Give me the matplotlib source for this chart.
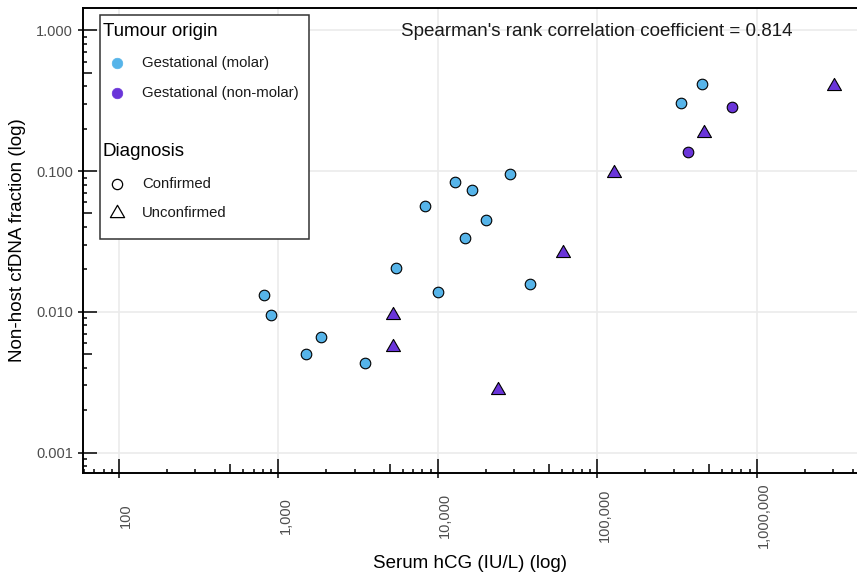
import numpy as np
import matplotlib
matplotlib.use("Agg")
import matplotlib.pyplot as plt
from matplotlib.lines import Line2D
from matplotlib.patches import Rectangle
from matplotlib.path import Path

plt.rcParams['font.family'] = ['Liberation Sans', 'DejaVu Sans']

# ---------------- data ----------------
hcg = [811, 897, 1845, 1486, 3500, 5200, 5200, 5460, 8250, 12840, 16270, 28280,
       20090, 14770, 10040, 37740, 60500, 23680, 450200, 335300, 700000, 463300,
       371000, 127500, 3050000]
cfdna = [0.0132, 0.0095, 0.0066, 0.0050, 0.0043, 0.0095, 0.0056, 0.0205, 0.0566,
         0.0842, 0.0736, 0.0960, 0.0446, 0.0334, 0.0139, 0.0157, 0.0261, 0.0028,
         0.415, 0.306, 0.2835, 0.188, 0.137, 0.0965, 0.402]
origin = ['molar', 'molar', 'molar', 'molar', 'molar', 'non-molar', 'non-molar',
          'molar', 'molar', 'molar', 'molar', 'molar', 'molar', 'molar', 'molar',
          'molar', 'non-molar', 'non-molar', 'molar', 'molar', 'non-molar',
          'non-molar', 'non-molar', 'non-molar', 'non-molar']
diagnosis = ['Confirmed', 'Confirmed', 'Confirmed', 'Confirmed', 'Confirmed',
             'Unconfirmed', 'Unconfirmed', 'Confirmed', 'Confirmed', 'Confirmed',
             'Confirmed', 'Confirmed', 'Confirmed', 'Confirmed', 'Confirmed',
             'Confirmed', 'Unconfirmed', 'Unconfirmed', 'Confirmed', 'Confirmed',
             'Confirmed', 'Unconfirmed', 'Confirmed', 'Unconfirmed', 'Unconfirmed']

origin_levels = ['molar', 'non-molar']
origin_labels = ['Gestational (molar)', 'Gestational (non-molar)']
diag_levels = ['Confirmed', 'Unconfirmed']

x_ticks = [100, 1000, 10000, 100000, 1000000]
x_ticklabels = ['100', '1,000', '10,000', '100,000', '1,000,000']
y_ticks = [0.001, 0.01, 0.1, 1.0]
y_ticklabels = ['0.001', '0.010', '0.100', '1.000']
annotation = "Spearman's rank correlation coefficient = 0.814"

# ---------------- style ----------------
colors = {'molar': '#56B4E9', 'non-molar': '#6A35D9'}
tri = Path([(0, 1.555), (1.347, -0.778), (-1.347, -0.778), (0, 1.555)],
           [Path.MOVETO, Path.LINETO, Path.LINETO, Path.CLOSEPOLY])
markers = {'Confirmed': 'o', 'Unconfirmed': tri}
sizes = {'Confirmed': 58, 'Unconfirmed': 135}

W, H = 857, 575
fig = plt.figure(figsize=(W / 100, H / 100), dpi=100)
L, R, T, B = 83, 857, 8, 473
ax = fig.add_axes([L / W, 1 - B / H, (R - L) / W, (B - T) / H])
ax.set_xscale('log')
ax.set_yscale('log')
ax.set_xlim(59.5, 4.24e6)
ax.set_ylim(0.000715, 1.444)

ax.grid(True, which='major', color='#EBEBEB', lw=1.2, zorder=0)
ax.set_axisbelow(True)

hcg_a = np.array(hcg)
cf_a = np.array(cfdna)
org_a = np.array(origin)
dia_a = np.array(diagnosis)
for d in diag_levels:
    for o in origin_levels:
        m = (org_a == o) & (dia_a == d)
        if m.any():
            ax.scatter(hcg_a[m], cf_a[m], marker=markers[d], s=sizes[d],
                       facecolor=colors[o], edgecolor='black', linewidth=0.8,
                       zorder=3)

# spines
for s in ['left', 'bottom', 'top']:
    ax.spines[s].set_linewidth(1.4)
    ax.spines[s].set_color('black')
ax.spines['right'].set_visible(False)

# major ticks + labels
ax.set_xticks(x_ticks)
ax.set_xticklabels(x_ticklabels)
ax.set_yticks(y_ticks)
ax.set_yticklabels(y_ticklabels)
ax.xaxis.set_minor_locator(matplotlib.ticker.NullLocator())
ax.yaxis.set_minor_locator(matplotlib.ticker.NullLocator())
ax.tick_params(axis='both', which='major', direction='out', length=3.6, width=1.1,
               colors='black', labelcolor='#4D4D4D', labelsize=10.5)
ax.tick_params(axis='x', pad=27.0)
ax.tick_params(axis='y', pad=3.6)
for lab in ax.get_xticklabels():
    lab.set_rotation(90)
    lab.set_va('center')
    lab.set_ha('left')

# log ticks inside (annotation_logticks style)
axh = B - T
axw = R - L
long_, mid_, short_ = 14, 9, 4
xt_pos, xt_len = [], []
for dec in range(1, 7):
    for k in range(1, 10):
        v = k * 10.0 ** dec
        if 59.5 <= v <= 4.24e6:
            xt_pos.append(v)
            xt_len.append(long_ if k == 1 else (mid_ if k == 5 else short_))
for v, ln in zip(xt_pos, xt_len):
    ax.plot([v, v], [0, ln / axh], transform=ax.get_xaxis_transform(),
            color='black', lw=1.1, solid_capstyle='butt', zorder=4, clip_on=False)
yt_pos, yt_len = [], []
for dec in range(-4, 1):
    for k in range(1, 10):
        v = k * 10.0 ** dec
        if 0.000715 <= v <= 1.444:
            yt_pos.append(v)
            yt_len.append(long_ if k == 1 else (mid_ if k == 5 else short_))
for v, ln in zip(yt_pos, yt_len):
    ax.plot([0, ln / axw], [v, v], transform=ax.get_yaxis_transform(),
            color='black', lw=1.1, solid_capstyle='butt', zorder=4, clip_on=False)

# axis labels
ax.set_xlabel('Serum hCG (IU/L) (log)', fontsize=13.5, color='black')
ax.xaxis.label.set_va('center')
ax.xaxis.set_label_coords(0.5, (B - 563) / axh)
ax.set_ylabel('Non-host cfDNA fraction (log)', fontsize=13.5, color='black')
ax.yaxis.label.set_va('center')
ax.yaxis.set_label_coords((18 - L) / axw, 0.5)


def fp(x, y):
    return (x / W, 1 - y / H)


# annotation
fig.text(*fp(597, 31), annotation, fontsize=13.5, color='#1A1A1A',
         ha='center', va='center')

# legend
fig.add_artist(Rectangle(fp(100, 239), 209 / W, 224 / H, transform=fig.transFigure,
                         facecolor='white', edgecolor='#333333', lw=1.1, zorder=5))
fig.text(*fp(103, 31), 'Tumour origin', fontsize=13.5, va='center', ha='left', zorder=6)
for i, (lev, lab) in enumerate(zip(origin_levels, origin_labels)):
    yy = 63 + 30 * i
    fig.add_artist(Line2D([fp(117, yy)[0]], [fp(117, yy)[1]], marker='o', ms=7.6,
                          mfc=colors[lev], mec=colors[lev], mew=0.5, ls='none',
                          transform=fig.transFigure, zorder=6))
    fig.text(*fp(142, yy), lab, fontsize=10.7, va='center', ha='left', zorder=6,
             color='#1A1A1A')
fig.text(*fp(103, 152), 'Diagnosis', fontsize=13.5, va='center', ha='left', zorder=6)
for i, lev in enumerate(diag_levels):
    yy = 184 + 29 * i
    fig.add_artist(Line2D([fp(117, yy)[0]], [fp(117, yy)[1]], marker=markers[lev],
                          ms=7.4 if lev == 'Confirmed' else 11.8,
                          mfc='none', mec='black', mew=0.9, ls='none',
                          transform=fig.transFigure, zorder=6))
    fig.text(*fp(142, yy), lev, fontsize=10.7, va='center', ha='left', zorder=6,
             color='#1A1A1A')

fig.savefig('out.png', dpi=100)
